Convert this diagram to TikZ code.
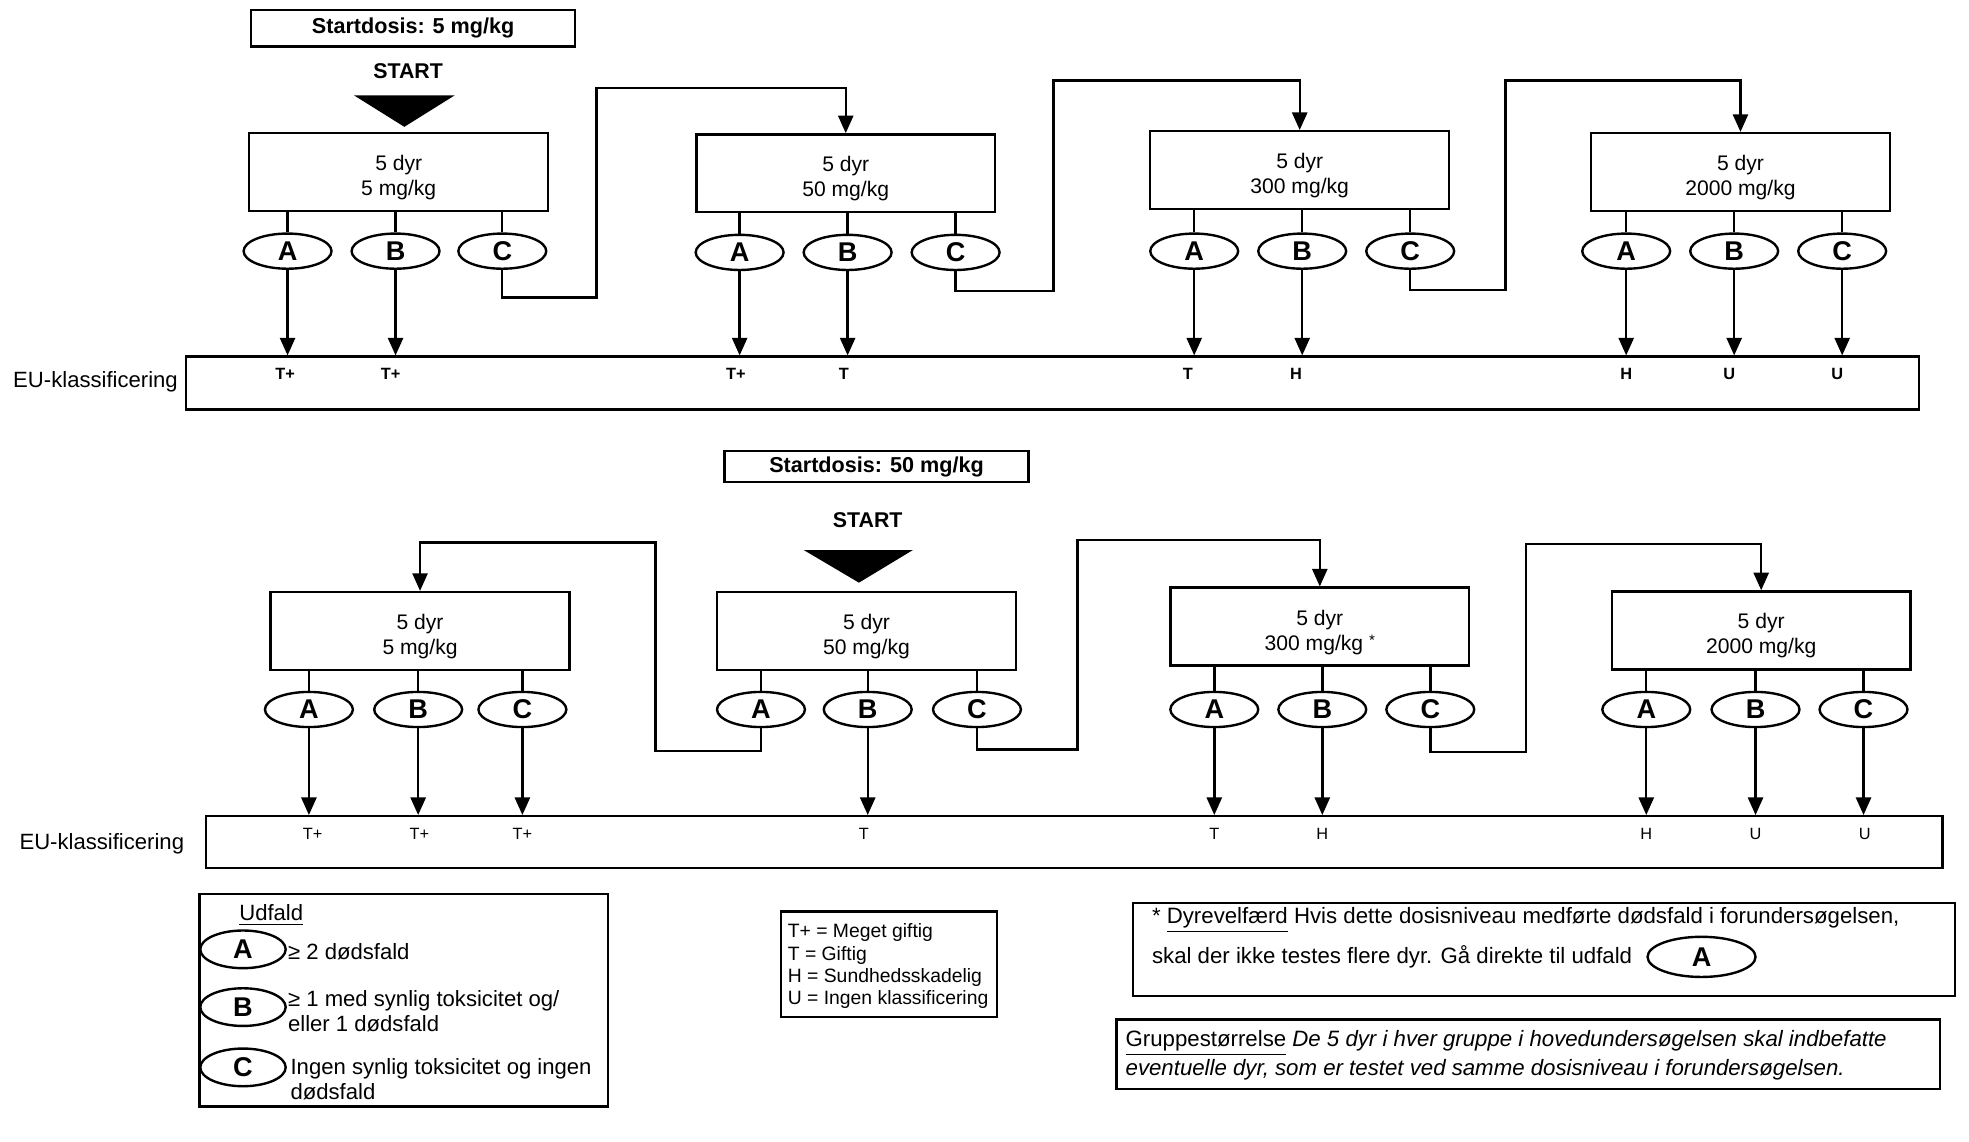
\documentclass[tikz,border=0pt]{standalone}
\usepackage{fontspec}
\setmainfont{Liberation Sans}
\usetikzlibrary{arrows.meta,shapes.geometric}
\newcommand{\toppad}{\rule{0pt}{10.5pt}}
\begin{document}
\begin{tikzpicture}[x=0.5pt,y=-0.5pt,
  lw/.style={line width=0.95pt},
  arr/.style={lw,-{Triangle[length=7pt,width=6pt]}},
  dosebox/.style={draw,lw,minimum width=119pt,minimum height=31pt,inner sep=0pt,align=center,font=\fontsize{8.4}{10}\selectfont},
  outc/.style={draw,lw,ellipse,minimum width=35pt,minimum height=14pt,inner sep=0pt,font=\fontsize{10.8}{12}\selectfont\bfseries},
  startbox/.style={draw,lw,inner sep=0pt,font=\fontsize{8.6}{10}\selectfont\bfseries},
  startlbl/.style={inner sep=0pt,font=\fontsize{8.5}{10}\selectfont\bfseries},
  eubox/.style={draw,lw,inner sep=0pt},
  eulbl/.style={inner sep=0pt,font=\fontsize{8.8}{10}\selectfont},
  clsA/.style={inner sep=0pt,font=\fontsize{6.5}{7}\selectfont\bfseries},
  clsB/.style={inner sep=0pt,font=\fontsize{6.5}{7}\selectfont},
  frame/.style={draw,lw,inner sep=0pt},
  legtxt/.style={inner sep=0pt,anchor=west,align=left,font=\fontsize{8.8}{10}\selectfont},
  smalltxt/.style={inner sep=0pt,anchor=west,align=left,font=\fontsize{7.7}{8.85}\selectfont},
  notetxt/.style={inner sep=0pt,anchor=west,font=\fontsize{8.85}{10}\selectfont}
]
\useasboundingbox (0,0) rectangle (1568,909);

%%%%%%%%%%%%%%%% TOP ROW %%%%%%%%%%%%%%%%
\node[startbox,minimum width=129pt,minimum height=14.5pt] (s1) at (329,22.5) {Startdosis: 5 mg/kg};
\node[startlbl] (st1) at (325,57) {START};
\fill (282,76) -- (362,76) -- (322,101) -- cycle;

\node[dosebox] (tb1) at (317.5,137) {\toppad 5 dyr\\5 mg/kg};
\node[dosebox] (tb2) at (673.5,138) {\toppad 5 dyr\\50 mg/kg};
\node[dosebox] (tb3) at (1035,135.5) {\toppad 5 dyr\\300 mg/kg};
\node[dosebox] (tb4) at (1386,137) {\toppad 5 dyr\\2000 mg/kg};

\node[outc] (tA1) at (229,200) {A};
\node[outc] (tB1) at (315,200) {B};
\node[outc] (tC1) at (400,200) {C};
\node[outc] (tA2) at (589,201) {A};
\node[outc] (tB2) at (675,201) {B};
\node[outc] (tC2) at (761,201) {C};
\node[outc] (tA3) at (951,200) {A};
\node[outc] (tB3) at (1037,200) {B};
\node[outc] (tC3) at (1123,200) {C};
\node[outc] (tA4) at (1295,200) {A};
\node[outc] (tB4) at (1381,200) {B};
\node[outc] (tC4) at (1467,200) {C};

\foreach \b/\e in {tb1/tA1,tb1/tB1,tb1/tC1,tb2/tA2,tb2/tB2,tb2/tC2,tb3/tA3,tb3/tB3,tb3/tC3,tb4/tA4,tb4/tB4,tb4/tC4}
  \draw[lw] (\e.north |- \b.south) -- (\e.north);

\node[eubox,minimum width=690pt,minimum height=21pt] (teu) at (838,305) {};
\node[eulbl,anchor=east] (teul) at (142,304) {EU-klassificering};

\foreach \e in {tA1,tB1,tA2,tB2,tA3,tB3,tA4,tB4,tC4}
  \draw[arr] (\e.south) -- (\e.south |- teu.north);

\node[clsA] (tl1) at (227,298) {T+};
\node[clsA] (tl2) at (311,298) {T+};
\node[clsA] (tl3) at (586,298) {T+};
\node[clsA] (tl4) at (672,298) {T};
\node[clsA] (tl5) at (946,298) {T};
\node[clsA] (tl6) at (1032,298) {H};
\node[clsA] (tl7) at (1295,298) {H};
\node[clsA] (tl8) at (1377,298) {U};
\node[clsA] (tl9) at (1463,298) {U};

\draw[arr] (tC1.south) -- ++(0,22) -| (475,70) -| (tb2.north);
\draw[arr] (tC2.south) -- ++(0,16) -| (839,64) -| (tb3.north);
\draw[arr] (tC3.south) -- ++(0,16) -| (1199,64) -| (tb4.north);

%%%%%%%%%%%%%%%% BOTTOM ROW %%%%%%%%%%%%%%%%
\node[startbox,minimum width=121pt,minimum height=12.5pt] (s2) at (698,371.5) {Startdosis: 50 mg/kg};
\node[startlbl] (st2) at (691,414) {START};
\fill (640,438) -- (727,438) -- (684,464) -- cycle;

\node[dosebox] (bb1) at (334.5,502.5) {\toppad 5 dyr\\5 mg/kg};
\node[dosebox] (bb2) at (690,502.5) {\toppad 5 dyr\\50 mg/kg};
\node[dosebox] (bb3) at (1051,499) {\toppad 5 dyr\\300 mg/kg {\fontsize{6}{6}\selectfont\raisebox{2pt}{*}}};
\node[dosebox] (bb4) at (1402.5,502) {\toppad 5 dyr\\2000 mg/kg};

\node[outc] (bA1) at (246,565) {A};
\node[outc] (bB1) at (333,565) {B};
\node[outc] (bC1) at (416,565) {C};
\node[outc] (bA2) at (606,565) {A};
\node[outc] (bB2) at (691,565) {B};
\node[outc] (bC2) at (778,565) {C};
\node[outc] (bA3) at (967,565) {A};
\node[outc] (bB3) at (1053,565) {B};
\node[outc] (bC3) at (1139,565) {C};
\node[outc] (bA4) at (1311,565) {A};
\node[outc] (bB4) at (1398,565) {B};
\node[outc] (bC4) at (1484,565) {C};

\foreach \b/\e in {bb1/bA1,bb1/bB1,bb1/bC1,bb2/bA2,bb2/bB2,bb2/bC2,bb3/bA3,bb3/bB3,bb3/bC3,bb4/bA4,bb4/bB4,bb4/bC4}
  \draw[lw] (\e.north |- \b.south) -- (\e.north);

\node[eubox,minimum width=691.5pt,minimum height=20.5pt] (beu) at (855.5,670.5) {};
\node[eulbl,anchor=east] (beul) at (147,672) {EU-klassificering};

\foreach \e in {bA1,bB1,bC1,bB2,bA3,bB3,bA4,bB4,bC4}
  \draw[arr] (\e.south) -- (\e.south |- beu.north);

\node[clsB] (bl1) at (249,664) {T+};
\node[clsB] (bl2) at (334,664) {T+};
\node[clsB] (bl3) at (416,664) {T+};
\node[clsB] (bl4) at (688,664) {T};
\node[clsB] (bl5) at (967,664) {T};
\node[clsB] (bl6) at (1053,664) {H};
\node[clsB] (bl7) at (1311,664) {H};
\node[clsB] (bl8) at (1398,664) {U};
\node[clsB] (bl9) at (1485,664) {U};

\draw[arr] (bA2.south) -- ++(0,18) -| (522,432) -| (bb1.north);
\draw[arr] (bC2.south) -- ++(0,17) -| (858,430) -| (bb3.north);
\draw[arr] (bC3.south) -- ++(0,19) -| (1215,433) -| (bb4.north);

%%%%%%%%%%%%%%%% LEGEND %%%%%%%%%%%%%%%%
\node[frame,minimum width=162.5pt,minimum height=84.5pt] (leg) at (321.5,796.5) {};
\node[inner sep=0pt,font=\fontsize{8.8}{10}\selectfont] (udf) at (216,729) {\underline{Udfald}};
\node[outc,minimum width=34pt,minimum height=15pt] (lA) at (193.5,756) {A};
\node[outc,minimum width=34pt,minimum height=15pt] (lB) at (193.5,802) {B};
\node[outc,minimum width=34pt,minimum height=15pt] (lC) at (193.5,850) {C};
\node[legtxt] (lAt) at (229,758) {≥ 2 dødsfald};
\node[legtxt] (lBt) at (229,805) {≥ 1 med synlig toksicitet og/\\eller 1 dødsfald};
\node[legtxt] (lCt) at (231,859.5) {Ingen synlig toksicitet og ingen\\dødsfald};

\node[frame,minimum width=86pt,minimum height=42pt] (cls) at (708,768) {};
\node[smalltxt] (clst) at (627,769.5) {T+ = Meget giftig\\T = Giftig\\H = Sundhedsskadelig\\U = Ingen klassificering};

\node[frame,minimum width=327.5pt,minimum height=37pt] (dyr) at (1229.5,756) {};
\node[notetxt] (dyr1) at (917,733) {* \underline{Dyrevelfærd} Hvis dette dosisniveau medførte dødsfald i forundersøgelsen,};
\node[notetxt] (dyr2) at (917,762) {skal der ikke testes flere dyr. Gå direkte til udfald};
\node[outc,minimum width=43pt,minimum height=16pt] (dyrA) at (1355,762) {A};

\node[frame,minimum width=328pt,minimum height=27.5pt] (grp) at (1217,839.5) {};
\node[notetxt] (grp1) at (896,831) {\underline{Gruppestørrelse} \textit{De 5 dyr i hver gruppe i hovedundersøgelsen skal indbefatte}};
\node[notetxt] (grp2) at (896,852) {\textit{eventuelle dyr, som er testet ved samme dosisniveau i forundersøgelsen.}};
\end{tikzpicture}
\end{document}
